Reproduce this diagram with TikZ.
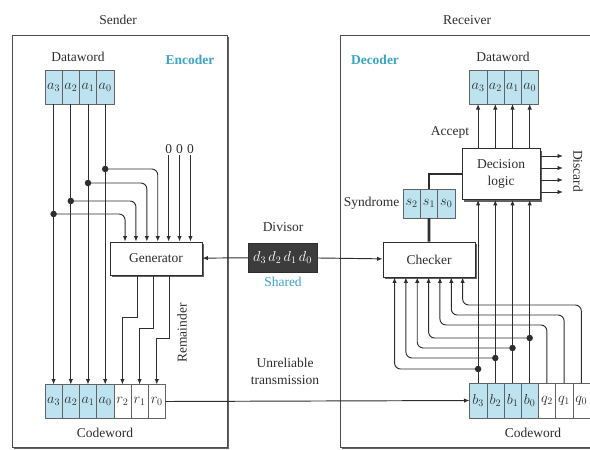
\documentclass[tikz,border=0pt]{standalone}
\usepackage{fontspec}
\setmainfont{Liberation Serif}
\usepackage{tikz}
\usetikzlibrary{arrows.meta,positioning,calc,shadows}
\definecolor{crcline}{HTML}{2E2E2E}
\definecolor{crccyan}{HTML}{3AA5C8}
\definecolor{crccell}{HTML}{BCE3EF}
\definecolor{crcdark}{HTML}{3C3C3C}

\begin{document}
\begin{tikzpicture}[
    x=1pt,y=-1pt,
    font=\fontsize{13.5}{17}\selectfont,
    shd/.style  = {drop shadow={shadow xshift=2pt,shadow yshift=-2pt,
                   fill=crcline!75,opacity=1}},
    frm/.style  = {draw=crcline!85,fill=white,line width=1pt,shd},
    blk/.style  = {rectangle,draw=crcline,fill=white,line width=0.9pt,align=center,
                   text=crcline,shd},
    dcell/.style= {rectangle,draw=crcline!75,fill=crccell,minimum width=17.2pt,
                   minimum height=34pt,inner sep=0pt,outer sep=0pt,text=crcline,
                   font=\fontsize{14.5}{17}\selectfont},
    rcell/.style= {dcell,fill=white},
    fl/.style   = {-{Latex[length=5.5pt,width=4.4pt]},crcline,line width=0.95pt},
    jdot/.style = {circle,fill=crcline,inner sep=0pt,minimum size=6.5pt},
    lbl/.style  = {text=crcline,align=center},
    hl/.style   = {text=crccyan,font=\fontsize{13.5}{17}\selectfont\bfseries},
    thk/.style  = {crcline,line width=2.6pt},
  ]
  \clip (0,0) rectangle (590,450);
  \fill[white] (0,0) rectangle (590,450);

  % frames
  \draw[frm] (12,35) rectangle (227,447);
  \draw[frm] (340,35) rectangle (604,447);

  \node[lbl] (snd) at (118,20) {Sender};
  \node[lbl] (rcv) at (467,20) {Receiver};
  \node[hl]  (enc) at (190,60) {Encoder};
  \node[hl]  (dcd) at (375,60) {Decoder};

  % sender words
  \node[lbl] (sdw) at (78,57) {Dataword};
  \node[dcell,anchor=west] (sd1) at (45,87) {$a_3$};
  \node[dcell,right=0pt of sd1] (sd2) {$a_2$};
  \node[dcell,right=0pt of sd2] (sd3) {$a_1$};
  \node[dcell,right=0pt of sd3] (sd4) {$a_0$};

  \node[dcell,anchor=west] (sc1) at (45,401.5) {$a_3$};
  \node[dcell,right=0pt of sc1] (sc2) {$a_2$};
  \node[dcell,right=0pt of sc2] (sc3) {$a_1$};
  \node[dcell,right=0pt of sc3] (sc4) {$a_0$};
  \node[rcell,right=0pt of sc4] (sc5) {$r_2$};
  \node[rcell,right=0pt of sc5] (sc6) {$r_1$};
  \node[rcell,right=0pt of sc6] (sc7) {$r_0$};
  \node[lbl] (scw) at (105,433) {Codeword};

  \node[blk,minimum width=92pt,minimum height=33pt] (gen) at (156,258.5) {Generator};
  \node[lbl,rotate=90] (rmd) at (182,333) {Remainder};

  % divisor
  \node[rectangle,draw=crcline,fill=crcdark,text=white,minimum width=69pt,
        minimum height=29pt,inner sep=1pt,font=\fontsize{14.5}{17}\selectfont]
        (dvs) at (282.5,257.5) {$d_3\,d_2\,d_1\,d_0$};
  \node[lbl] (dvl) at (283,227) {Divisor};
  \node[text=crccyan] (shr) at (283,282) {Shared};
  \node[lbl] (utr) at (285,371) {Unreliable\\transmission};

  % receiver words
  \node[lbl] (rdw) at (503,57) {Dataword};
  \node[dcell,anchor=west] (rd1) at (469.5,87) {$a_3$};
  \node[dcell,right=0pt of rd1] (rd2) {$a_2$};
  \node[dcell,right=0pt of rd2] (rd3) {$a_1$};
  \node[dcell,right=0pt of rd3] (rd4) {$a_0$};

  \node[dcell,anchor=west,minimum height=35pt] (rc1) at (469.5,400.5) {$b_3$};
  \node[dcell,minimum height=35pt,right=0pt of rc1] (rc2) {$b_2$};
  \node[dcell,minimum height=35pt,right=0pt of rc2] (rc3) {$b_1$};
  \node[dcell,minimum height=35pt,right=0pt of rc3] (rc4) {$b_0$};
  \node[rcell,minimum height=35pt,right=0pt of rc4] (rc5) {$q_2$};
  \node[rcell,minimum height=35pt,right=0pt of rc5] (rc6) {$q_1$};
  \node[rcell,minimum height=35pt,right=0pt of rc6] (rc7) {$q_0$};
  \node[lbl] (rcw) at (533,433) {Codeword};

  \node[blk,minimum width=92pt,minimum height=35pt] (chk) at (429,259.5) {Checker};
  \node[blk,minimum width=78pt,minimum height=51pt] (dec) at (501,174) {Decision\\logic};

  \node[dcell,anchor=west,minimum height=29pt,minimum width=17.3pt] (sy1) at (403,203.5) {$s_2$};
  \node[dcell,minimum height=29pt,minimum width=17.3pt,right=0pt of sy1] (sy2) {$s_1$};
  \node[dcell,minimum height=29pt,minimum width=17.3pt,right=0pt of sy2] (sy3) {$s_0$};
  \node[lbl,left=0pt of sy1] (syl) {Syndrome};
  \node[lbl] (acc) at (450,132) {Accept};
  \node[lbl,rotate=-90] (dsl) at (578,171) {Discard};
  \coordinate (dsc) at (563,0);

  % generator inputs and outputs
  \foreach \k/\dx in {1/15.5,2/26.4,3/37.3,4/48.2,5/59.1,6/70,7/80.9}
    \coordinate (g\k) at ($(gen.north west)+(\dx,0)$);
  \foreach \k/\dx in {1/28,2/44,3/60}
    \coordinate (o\k) at ($(gen.south west)+(\dx,0)$);
  \foreach \k/\dx in {1/12,2/23.35,3/34.7,4/46.05,5/57.4,6/68.75,7/80.1}
    \coordinate (c\k) at ($(chk.south west)+(\dx,0)$);

  \node[lbl,inner sep=1pt] (z1) at (g5 |- 0,149) {0};
  \node[lbl,inner sep=1pt] (z2) at (g6 |- 0,149) {0};
  \node[lbl,inner sep=1pt] (z3) at (g7 |- 0,149) {0};

  % encoder connections
  \draw[fl] (sd1.south) -- (sc1.north);
  \draw[fl] (sd2.south) -- (sc2.north);
  \draw[fl] (sd3.south) -- (sc3.north);
  \draw[fl] (sd4.south) -- (sc4.north);

  \node[jdot] (j1) at (sc1 |- 0,214) {};
  \node[jdot] (j2) at (sc2 |- 0,201) {};
  \node[jdot] (j3) at (sc3 |- 0,183) {};
  \node[jdot] (j4) at (sc4 |- 0,169) {};
  \draw[fl,rounded corners=6pt] (j1.center) -| (g1);
  \draw[fl,rounded corners=6pt] (j2.center) -| (g2);
  \draw[fl,rounded corners=6pt] (j3.center) -| (g3);
  \draw[fl,rounded corners=6pt] (j4.center) -| (g4);
  \draw[fl] (z1) -- (g5);
  \draw[fl] (z2) -- (g6);
  \draw[fl] (z3) -- (g7);

  \draw[fl] (o1) -- ++(0,42) -| (sc5.north);
  \draw[fl] (o2) -- ++(0,53) -| (sc6.north);
  \draw[fl] (o3) -- ++(0,63) -| (sc7.north);

  \draw[fl] (dvs) -- (gen);
  \draw[fl] (dvs) -- (chk);
  \draw[fl] (sc7.east) -- (rc1.west);

  % decoder connections
  \draw[fl] (rc1.north) -- (rc1 |- dec.south);
  \draw[fl] (rc2.north) -- (rc2 |- dec.south);
  \draw[fl] (rc3.north) -- (rc3 |- dec.south);
  \draw[fl] (rc4.north) -- (rc4 |- dec.south);
  \draw[fl] (rd1 |- dec.north) -- (rd1.south);
  \draw[fl] (rd2 |- dec.north) -- (rd2.south);
  \draw[fl] (rd3 |- dec.north) -- (rd3.south);
  \draw[fl] (rd4 |- dec.north) -- (rd4.south);

  \node[jdot] (k1) at (rc1 |- 0,369) {};
  \node[jdot] (k2) at (rc2 |- 0,358) {};
  \node[jdot] (k3) at (rc3 |- 0,348) {};
  \node[jdot] (k4) at (rc4 |- 0,338) {};
  \draw[fl,rounded corners=6pt] (k1.center) -| (c1);
  \draw[fl,rounded corners=6pt] (k2.center) -| (c2);
  \draw[fl,rounded corners=6pt] (k3.center) -| (c3);
  \draw[fl,rounded corners=6pt] (k4.center) -| (c4);
  \draw[fl,rounded corners=6pt] (rc5.north) -- (rc5 |- 0,325) -| (c5);
  \draw[fl,rounded corners=6pt] (rc6.north) -- (rc6 |- 0,315) -| (c6);
  \draw[fl,rounded corners=6pt] (rc7.north) -- (rc7 |- 0,305) -| (c7);

  \draw[thk] (chk.north) -- (sy2.south);
  \draw[thk] (sy2.north) |- (dec.west);

  \draw[fl] (dec.east |- 0,156) -- (dsc |- 0,156);
  \draw[fl] (dec.east |- 0,168) -- (dsc |- 0,168);
  \draw[fl] (dec.east |- 0,180) -- (dsc |- 0,180);
  \draw[fl] (dec.east |- 0,192) -- (dsc |- 0,192);

\end{tikzpicture}
\end{document}
